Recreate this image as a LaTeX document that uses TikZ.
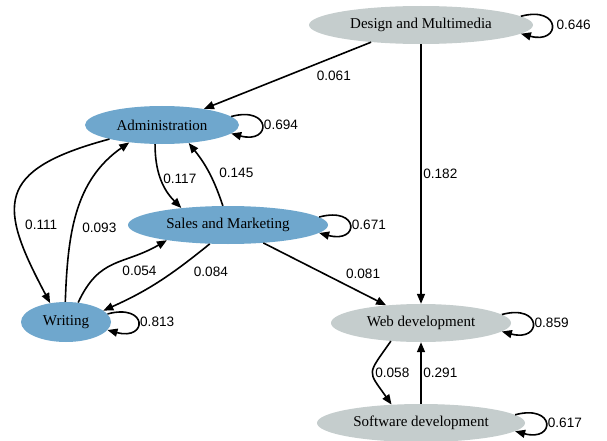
\documentclass[tikz,border=0pt]{standalone}
\usepackage{fontspec}
\setmainfont{Liberation Serif}
\newfontfamily\sharefont{Liberation Sans}
\usepackage{tikz}
\usetikzlibrary{positioning}
\usetikzlibrary{arrows.meta,shapes.geometric}

\definecolor{areablue}{RGB}{111,167,205}
\definecolor{areagray}{RGB}{197,205,205}

\begin{document}
\begin{tikzpicture}
           [x=1pt, y=1pt,
            area/.style = {ellipse, minimum height=38pt, inner sep=0pt,
                           font=\fontsize{15}{17}\selectfont},
            bluearea/.style = {area, fill=areablue},
            grayarea/.style = {area, fill=areagray},
            share/.style = {font=\sharefont\fontsize{13.6}{15}\selectfont, inner sep=1.5pt},
            flow/.style = {line width=1.6pt, -{Triangle[length=10pt,width=8pt]}},
            selfloop/.style = {out=15, in=-15, distance=42pt}]
            \useasboundingbox (0,0) rectangle (607,-441);

            \node[grayarea, minimum width=224pt] (design) at (421,-25) {Design and Multimedia};
            \node[bluearea, minimum width=154pt] (admin) at (162,-125) {Administration};
            \node[bluearea, minimum width=200pt] (sales) at (228,-225) {Sales and Marketing};
            \node[bluearea, minimum width=90pt, minimum height=40pt] (writing) at (66,-322) {Writing};
            \node[grayarea, minimum width=180pt] (web) at (421,-323) {Web development};
            \node[grayarea, minimum width=208pt] (soft) at (421,-423) {Software development};

            % self loops
            \path[flow] (design.5) edge[selfloop] node[share, right=3pt] {0.646} (design.-5);
            \path[flow] (admin.7) edge[selfloop] node[share, right] {0.694} (admin.-7);
            \path[flow] (sales.5) edge[selfloop] node[share, right] {0.671} (sales.-5);
            \path[flow] (writing.11) edge[selfloop] node[share, right] {0.813} (writing.-11);
            \path[flow] (web.6) edge[selfloop] node[share, right] {0.859} (web.-6);
            \path[flow] (soft.5) edge[selfloop] node[share, right] {0.617} (soft.-5);

            % transitions
            \path[flow] (design.199) edge node[share, right=27pt] {0.061} (admin.21);
            \path[flow] (design) edge node[share, right] {0.182} (web);
            \path[flow] (admin.250) edge[out=-90, in=135] node[share, right] {0.117} (sales.160);
            \path[flow] (sales.105) edge[bend right=10] node[share, right=8pt] {0.145} (admin.-34);
            \path[flow] (admin.195) edge[out=195, in=118, out distance=120pt, in distance=110pt]
                node[share, pos=0.67, right=6pt] {0.111} (writing.130);
            \path[flow] (writing.92) edge[out=88, in=215]
                node[share, pos=0.4, right=7pt] {0.093} (admin.208);
            \path[flow] (writing.58) edge[out=65, in=210, looseness=1.2]
                node[share, pos=0.35, right=18pt] {0.054} (sales.194);
            \path[flow] (sales.226) edge[out=219, in=24]
                node[share, pos=0.35, right=18pt] {0.084} (writing.17);
            \path[flow] (sales) edge node[share, right=19pt] {0.081} (web);
            \path[flow] (web.211) edge[out=235, in=125, looseness=1.7] node[share, right] {0.058} (soft.148);
            \path[flow] (soft) edge node[share, right] {0.291} (web);
        \end{tikzpicture}
\end{document}
